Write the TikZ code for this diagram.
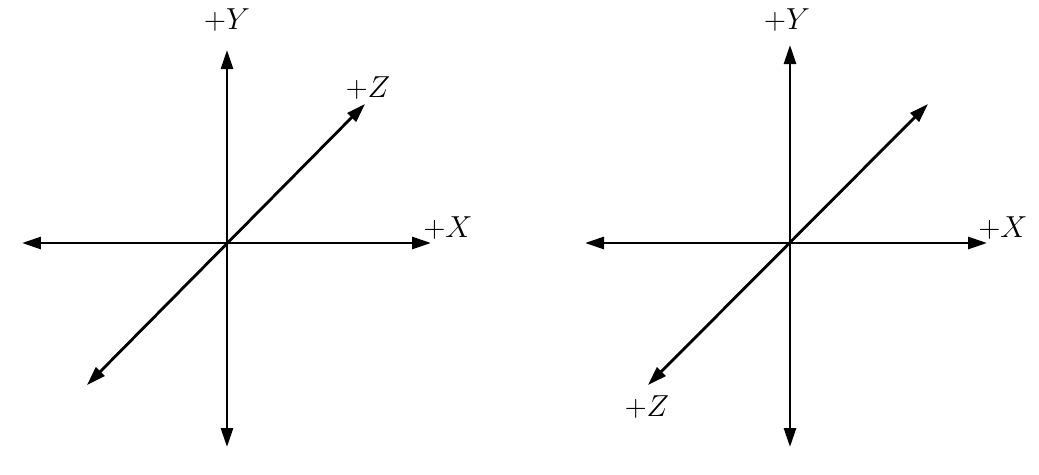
\documentclass[tikz,border=0pt]{standalone}
\usetikzlibrary{arrows.meta}
\begin{document}
\begin{tikzpicture}[x=0.02cm,y=-0.02cm,
  axis/.style={line width=1.6pt,{Triangle[length=0.38cm,width=0.24cm]}-{Triangle[length=0.38cm,width=0.24cm]}},
  lbl/.style={font=\fontsize{17}{20}\selectfont,inner sep=0pt}]
\useasboundingbox (0,0) rectangle (1039,474);
% left frame
\coordinate (lo) at (227,243);
\coordinate (lyt) at (227,50);
\coordinate (lyb) at (227,447);
\coordinate (lxl) at (22,243);
\coordinate (lxr) at (431,243);
\coordinate (lzu) at (365,104);
\coordinate (lzd) at (87,385);
\draw[axis] (lyb) -- (lyt);
\draw[axis] (lxl) -- (lxr);
\draw[axis] (lzd) -- (lzu);
\node[lbl] (ly) at (227,20) {$+Y$};
\node[lbl] (lz) at (368,88) {$+Z$};
\node[lbl] (lx) at (448,228) {$+X$};
% right frame
\coordinate (ro) at (790,243);
\coordinate (ryt) at (790,45);
\coordinate (ryb) at (790,447);
\coordinate (rxl) at (585,243);
\coordinate (rxr) at (987,243);
\coordinate (rzu) at (928,104);
\coordinate (rzd) at (648,385);
\draw[axis] (ryb) -- (ryt);
\draw[axis] (rxl) -- (rxr);
\draw[axis] (rzd) -- (rzu);
\node[lbl] (ry) at (787,20) {$+Y$};
\node[lbl] (rx) at (1003,228) {$+X$};
\node[lbl] (rz) at (647,407) {$+Z$};
\end{tikzpicture}
\end{document}
